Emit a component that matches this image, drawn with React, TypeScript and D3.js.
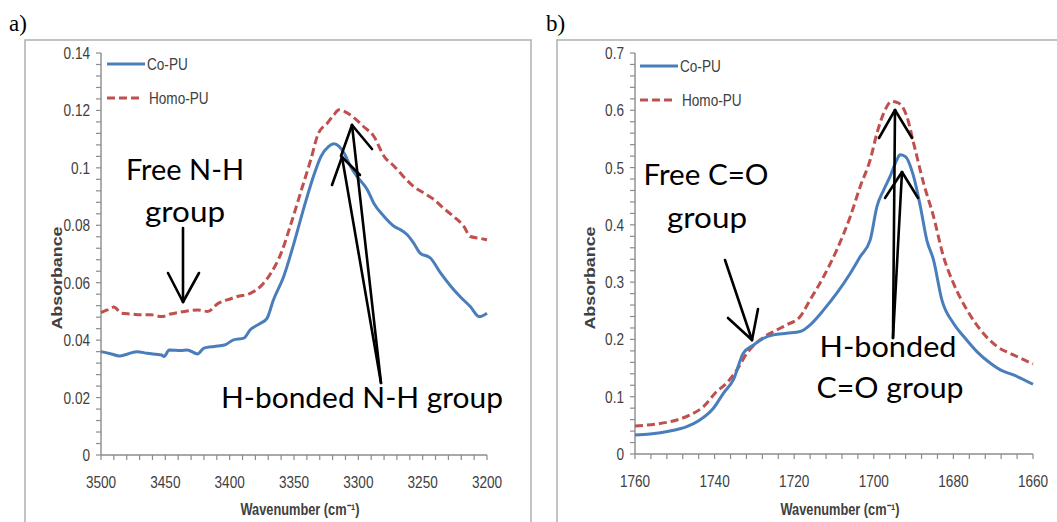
import React from "react";
import * as d3 from "d3";

// ---------- Data: panel a (N-H region) ----------
const nhCoWave = [3500, 3492, 3486, 3479, 3472, 3464, 3453, 3451, 3447, 3438, 3433, 3425, 3420, 3412, 3404, 3397, 3389, 3384, 3376, 3371, 3366, 3358, 3350, 3342, 3334, 3329, 3323, 3319, 3315, 3311, 3306, 3301, 3293, 3288, 3280, 3272, 3267, 3262, 3257, 3252, 3244, 3236, 3228, 3221, 3213, 3206, 3200];
const nhCoAbs = [0.036, 0.0352, 0.0345, 0.0352, 0.036, 0.0354, 0.0348, 0.0343, 0.0366, 0.0364, 0.0366, 0.0352, 0.0372, 0.0378, 0.0383, 0.0401, 0.0407, 0.0436, 0.0459, 0.0476, 0.054, 0.0622, 0.0738, 0.0866, 0.0982, 0.104, 0.1075, 0.1084, 0.1075, 0.1051, 0.1005, 0.097, 0.0924, 0.0877, 0.0831, 0.0796, 0.0784, 0.0767, 0.0738, 0.0703, 0.0686, 0.0633, 0.0587, 0.0552, 0.0517, 0.0482, 0.0494];
const nhHomoWave = [3500, 3495, 3490, 3484, 3477, 3469, 3461, 3453, 3446, 3435, 3425, 3417, 3409, 3402, 3394, 3384, 3376, 3368, 3360, 3353, 3345, 3337, 3331, 3324, 3319, 3315, 3311, 3303, 3296, 3288, 3280, 3272, 3265, 3257, 3249, 3241, 3234, 3226, 3218, 3213, 3206, 3200];
const nhHomoAbs = [0.0496, 0.0505, 0.0515, 0.0494, 0.0491, 0.0488, 0.0488, 0.0482, 0.0491, 0.05, 0.0505, 0.05, 0.0528, 0.054, 0.0552, 0.0563, 0.0587, 0.0633, 0.0703, 0.0796, 0.0912, 0.1028, 0.1121, 0.1156, 0.1185, 0.1202, 0.1197, 0.1173, 0.1144, 0.111, 0.104, 0.1005, 0.097, 0.0935, 0.0912, 0.0889, 0.086, 0.0831, 0.0796, 0.0761, 0.0755, 0.0749];
const nhXTicks = [3500, 3450, 3400, 3350, 3300, 3250, 3200];
const nhYTicks = [0, 0.02, 0.04, 0.06, 0.08, 0.1, 0.12, 0.14];

// ---------- Data: panel b (C=O region) ----------
const coCoWave = [1760, 1756.2, 1751.2, 1747, 1743.7, 1740.3, 1737.8, 1735.3, 1732.8, 1730.2, 1727.7, 1725.2, 1721.9, 1718.5, 1716, 1712.6, 1709.3, 1705.9, 1703.4, 1700.9, 1699.2, 1697.5, 1695.9, 1694.2, 1693.4, 1692.1, 1690, 1688.3, 1686.7, 1685, 1682.9, 1680, 1677.4, 1674.1, 1670.7, 1668.2, 1664.9, 1660];
const coCoAbs = [0.0332, 0.0349, 0.0402, 0.0478, 0.0594, 0.0798, 0.106, 0.1293, 0.1759, 0.1904, 0.2021, 0.2079, 0.2108, 0.2137, 0.2254, 0.2516, 0.2807, 0.3156, 0.3447, 0.3739, 0.4321, 0.4612, 0.4845, 0.5136, 0.5224, 0.5195, 0.4845, 0.4321, 0.3739, 0.3389, 0.2691, 0.2283, 0.205, 0.1788, 0.1584, 0.1468, 0.138, 0.1217];
const coHomoWave = [1760, 1754.6, 1750.4, 1746.2, 1742.8, 1739.5, 1737, 1734.4, 1731.9, 1728.6, 1725.2, 1721.9, 1718.5, 1716, 1712.6, 1709.3, 1705.9, 1703.4, 1700.9, 1699.2, 1697.5, 1695.5, 1693.8, 1691.7, 1690, 1687.5, 1685, 1682.5, 1680, 1676.6, 1673.2, 1669, 1664.9, 1660];
const coHomoAbs = [0.0489, 0.0524, 0.0577, 0.0681, 0.0827, 0.1089, 0.1235, 0.1468, 0.1759, 0.1992, 0.2137, 0.2254, 0.2399, 0.2691, 0.3098, 0.3564, 0.4147, 0.4671, 0.5137, 0.5603, 0.5952, 0.6156, 0.6127, 0.5894, 0.5428, 0.4729, 0.4147, 0.3447, 0.2982, 0.2516, 0.2167, 0.1875, 0.173, 0.1572];
const coXTicks = [1760, 1740, 1720, 1700, 1680, 1660];
const coYTicks = [0, 0.1, 0.2, 0.3, 0.4, 0.5, 0.6, 0.7];

const seriesNames = ["Co-PU", "Homo-PU"];

const BLUE = "#4A7EBB";
const RED = "#C0504D";
const AXIS = "#8C8C8C";
const SANS = "'Liberation Sans', Arial, sans-serif";
const ANNOT = "Lato, 'Open Sans', sans-serif";
const NARROW_SCALE = 0.8;

type Arrow = { x1: number; y1: number; x2: number; y2: number; wings: [number, number][] };

function ArrowShape({ a }: { a: Arrow }) {
  return (
    <g stroke="#000" strokeWidth={2.6} fill="none" strokeLinecap="round">
      <line x1={a.x1} y1={a.y1} x2={a.x2} y2={a.y2} />
      {a.wings.map((w, i) => (
        <line key={i} x1={a.x2} y1={a.y2} x2={w[0]} y2={w[1]} />
      ))}
    </g>
  );
}

function NarrowText({ x, y, anchor, dy, size, bold, children }: { x: number; y: number; anchor: "start" | "middle" | "end"; dy?: string; size: number; bold?: boolean; children: React.ReactNode }) {
  return (
    <g transform={`translate(${x},${y}) scale(${NARROW_SCALE},1)`}>
      <text x={0} y={0} dy={dy} textAnchor={anchor} fontFamily={SANS} fontSize={size} fontWeight={bold ? "bold" : "normal"} fill="#404040">
        {children}
      </text>
    </g>
  );
}

type PanelProps = {
  frame: [number, number, number, number];
  xDomain: [number, number];
  xRange: [number, number];
  yDomain: [number, number];
  yRange: [number, number];
  xTicks: number[];
  yTicks: number[];
  xMinor: number;
  yMinor: number;
  yFmt: (v: number) => string;
  co: [number[], number[]];
  homo: [number[], number[]];
  legendX: number;
  legendY: number;
  yTitleX: number;
  xTitleX: number;
};

function Panel(p: PanelProps) {
  const x = d3.scaleLinear().domain(p.xDomain).range(p.xRange);
  const y = d3.scaleLinear().domain(p.yDomain).range(p.yRange);
  const line = d3
    .line<[number, number]>()
    .x((d) => x(d[0]))
    .y((d) => y(d[1]))
    .curve(d3.curveMonotoneX);
  const coPts = p.co[0].map((w, i) => [w, p.co[1][i]] as [number, number]);
  const homoPts = p.homo[0].map((w, i) => [w, p.homo[1][i]] as [number, number]);
  const x0 = p.xRange[0];
  const y0 = p.yRange[0];
  const xMinorTicks = d3.range(Math.min(...p.xDomain), Math.max(...p.xDomain) + 1e-9, p.xMinor);
  const yMinorTicks = d3.range(p.yDomain[0], p.yDomain[1] + 1e-9, p.yMinor);
  const [fx, fy, fw, fh] = p.frame;
  return (
    <g>
      <rect x={fx} y={fy} width={fw} height={fh} fill="#fff" stroke="#B4B4B4" strokeWidth={1.6} />
      {/* axes */}
      <line x1={x0} y1={p.yRange[0]} x2={x0} y2={p.yRange[1]} stroke={AXIS} strokeWidth={1.4} />
      <line x1={p.xRange[0]} y1={y0} x2={p.xRange[1]} y2={y0} stroke={AXIS} strokeWidth={1.4} />
      {yMinorTicks.map((t, i) => (
        <line key={"ym" + i} x1={x0 - 5} x2={x0} y1={y(t)} y2={y(t)} stroke={AXIS} strokeWidth={1.2} />
      ))}
      {xMinorTicks.map((t, i) => (
        <line key={"xm" + i} x1={x(t)} x2={x(t)} y1={y0} y2={y0 + 5} stroke={AXIS} strokeWidth={1.2} />
      ))}
      {p.yTicks.map((t) => (
        <NarrowText key={"yt" + t} x={x0 - 11} y={y(t)} dy="0.35em" anchor="end" size={17}>
          {p.yFmt(t)}
        </NarrowText>
      ))}
      {p.xTicks.map((t) => (
        <NarrowText key={"xt" + t} x={x(t)} y={y0 + 33} anchor="middle" size={17}>
          {t}
        </NarrowText>
      ))}
      <g transform={`translate(${p.yTitleX},278) rotate(-90)`}>
        <text x={0} y={0} dy="0.35em" textAnchor="middle" fontFamily={SANS} fontWeight="bold" fontSize={14} fill="#404040" textLength={103} lengthAdjust="spacingAndGlyphs">
          Absorbance
        </text>
      </g>
      <NarrowText x={p.xTitleX} y={515} anchor="middle" size={16} bold>
        Wavenumber (cm⁻¹)
      </NarrowText>
      {/* series */}
      <path d={line(homoPts) || ""} fill="none" stroke={RED} strokeWidth={3} strokeDasharray="8,4" />
      <path d={line(coPts) || ""} fill="none" stroke={BLUE} strokeWidth={3} />
      {/* legend */}
      <line x1={p.legendX} x2={p.legendX + 38} y1={p.legendY} y2={p.legendY} stroke={BLUE} strokeWidth={3} />
      <NarrowText x={p.legendX + 40} y={p.legendY} dy="0.35em" anchor="start" size={17}>
        {seriesNames[0]}
      </NarrowText>
      <line x1={p.legendX} x2={p.legendX + 36} y1={p.legendY + 34} y2={p.legendY + 34} stroke={RED} strokeWidth={3} strokeDasharray="8,4" />
      <NarrowText x={p.legendX + 42} y={p.legendY + 34} dy="0.35em" anchor="start" size={17}>
        {seriesNames[1]}
      </NarrowText>
    </g>
  );
}

function Annot({ x, y, text, w }: { x: number; y: number; text: string; w: number }) {
  return (
    <text x={x} y={y} textAnchor="middle" fontFamily={ANNOT} fontSize={28} fill="#000" textLength={w} lengthAdjust="spacingAndGlyphs">
      {text}
    </text>
  );
}

const arrowsA: Arrow[] = [
  { x1: 183, y1: 228, x2: 183, y2: 302, wings: [[168, 273], [199, 273]] },
  { x1: 381, y1: 383, x2: 352, y2: 125, wings: [[372, 149], [341, 156]] },
  { x1: 381, y1: 383, x2: 342, y2: 157, wings: [[332, 185], [360, 175]] },
];
const arrowsB: Arrow[] = [
  { x1: 725, y1: 260, x2: 752, y2: 340, wings: [[728, 318], [758, 309]] },
  { x1: 893, y1: 338, x2: 895, y2: 110, wings: [[879, 138], [912, 138]] },
  { x1: 893, y1: 338, x2: 902, y2: 172, wings: [[885, 198], [918, 198]] },
];

export default function App() {
  return (
    <svg width={1057} height={522} style={{ position: "absolute", left: 0, top: 0, background: "#fff" }}>
      <rect x={0} y={0} width={1057} height={522} fill="#fff" />
      <text x={9} y={31} fontFamily="'Liberation Serif', 'Times New Roman', serif" fontSize={23} fill="#000">a)</text>
      <text x={546} y={31} fontFamily="'Liberation Serif', 'Times New Roman', serif" fontSize={23} fill="#000">b)</text>
      <Panel
        frame={[25, 40, 506, 500]}
        xDomain={[3500, 3200]}
        xRange={[101, 487]}
        yDomain={[0, 0.14]}
        yRange={[455, 53]}
        xTicks={nhXTicks}
        yTicks={nhYTicks}
        xMinor={10}
        yMinor={0.004}
        yFmt={(v) => (v === 0 ? "0" : String(+v.toFixed(2)))}
        co={[nhCoWave, nhCoAbs]}
        homo={[nhHomoWave, nhHomoAbs]}
        legendX={107}
        legendY={64}
        yTitleX={57}
        xTitleX={300}
      />
      <Panel
        frame={[557, 40, 520, 500]}
        xDomain={[1760, 1660]}
        xRange={[635, 1033]}
        yDomain={[0, 0.7]}
        yRange={[454, 53]}
        xTicks={coXTicks}
        yTicks={coYTicks}
        xMinor={4}
        yMinor={0.02}
        yFmt={(v) => (v === 0 ? "0" : String(+v.toFixed(1)))}
        co={[coCoWave, coCoAbs]}
        homo={[coHomoWave, coHomoAbs]}
        legendX={640}
        legendY={66}
        yTitleX={590}
        xTitleX={840}
      />
      {arrowsA.map((a, i) => <ArrowShape key={"aa" + i} a={a} />)}
      {arrowsB.map((a, i) => <ArrowShape key={"ab" + i} a={a} />)}
      <Annot x={185} y={180} text="Free N-H" w={118} />
      <Annot x={185} y={222} text="group" w={80} />
      <Annot x={362} y={408} text="H-bonded N-H group" w={282} />
      <Annot x={706} y={185} text="Free C=O" w={125} />
      <Annot x={707} y={228} text="group" w={80} />
      <Annot x={888} y={357} text="H-bonded" w={137} />
      <Annot x={890} y={398} text="C=O group" w={147} />
    </svg>
  );
}
